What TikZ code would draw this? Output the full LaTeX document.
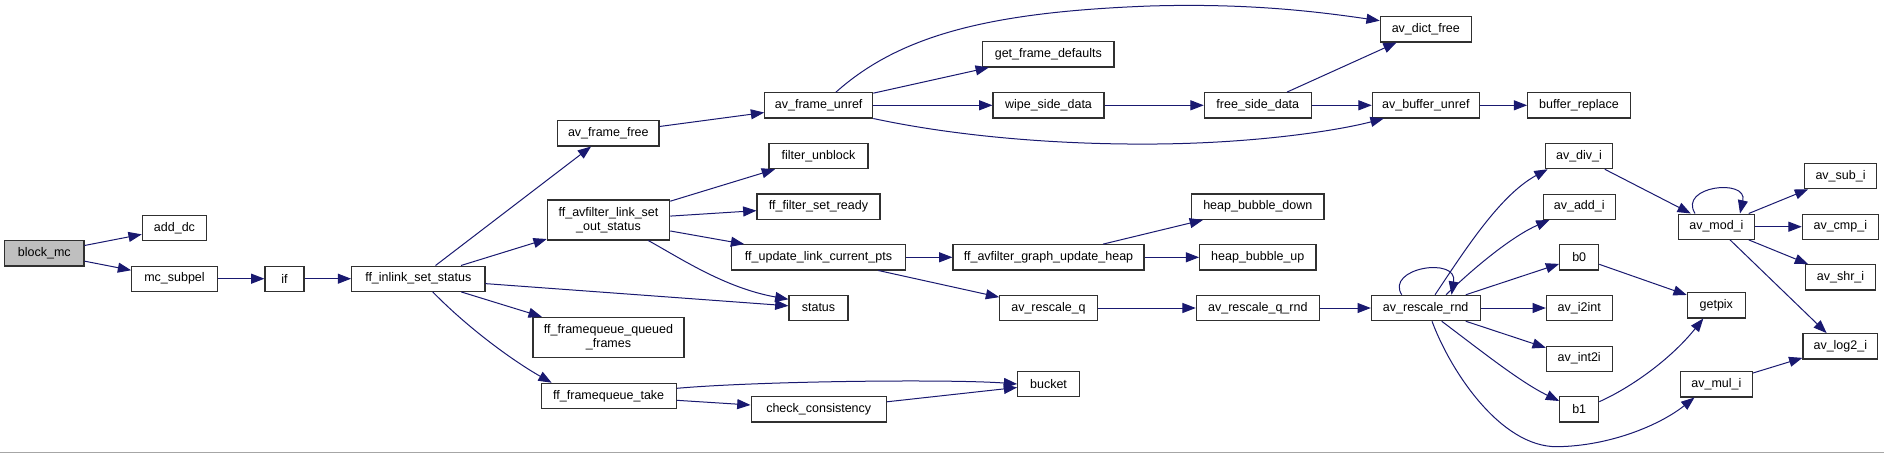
\documentclass[tikz,border=0pt]{standalone}
\usepackage{fontspec}
\setmainfont{Liberation Sans}
\usetikzlibrary{arrows.meta}
\definecolor{edgecol}{HTML}{191970}
\definecolor{rootfill}{HTML}{BFBFBF}
\definecolor{bordercol}{HTML}{303030}
\tikzset{
  fn/.style={draw=bordercol, line width=1.1pt, rectangle, inner sep=0pt, fill=white,
    font=\fontsize{12.5}{14.3}\selectfont, align=center, anchor=center},
  ed/.style={draw=edgecol, line width=1pt, -{Triangle[length=13.3pt,width=10pt]}},
}
\newcommand{\fnode}[6]{\node[fn, minimum width=#4pt, minimum height=#5pt] (#1) at (#2,#3) {#6};}
\begin{document}
\begin{tikzpicture}[x=1pt,y=-1pt]
\useasboundingbox (0,0) rectangle (1884,453);
\fill[white] (0,0) rectangle (1884,453);
% nodes
\node[fn, fill=rootfill, minimum width=79.3pt, minimum height=25.3pt] (blockmc) at (44.3,253.3) {block\_mc};
\fnode{adddc}{174.5}{228}{64.4}{25.4}{add\_dc}
\fnode{mcsubpel}{174.5}{278.7}{85.6}{25.3}{mc\_subpel}
\fnode{ifn}{284.5}{278.7}{39}{25.3}{if}
\fnode{ffinlink}{418.3}{278.7}{133.3}{25.3}{ff\_inlink\_set\_status}
\fnode{avframefree}{608.3}{133.3}{101.3}{25.3}{av\_frame\_free}
\fnode{ffavlink}{608.5}{220}{122.4}{40}{ff\_avfilter\_link\_set\\\_out\_status}
\fnode{ffqueued}{608.5}{337.3}{151}{40}{ff\_framequeue\_queued\\\_frames}
\fnode{fftake}{608.7}{396}{135.3}{25.4}{ff\_framequeue\_take}
\fnode{statusn}{818.5}{308}{59}{25.4}{status}
\fnode{avframeunref}{818.7}{105.3}{108}{25.3}{av\_frame\_unref}
\fnode{filterunblock}{818.5}{156}{99}{25.4}{filter\_unblock}
\fnode{ffsetready}{818.5}{206.7}{123}{25.4}{ff\_filter\_set\_ready}
\fnode{ffupdate}{818.5}{257.3}{173.6}{25.3}{ff\_update\_link\_current\_pts}
\fnode{checkcons}{818.7}{409.3}{135.3}{25.3}{check\_consistency}
\fnode{getframedef}{1048.3}{54.3}{131.3}{25.3}{get\_frame\_defaults}
\fnode{wipeside}{1048.5}{105.3}{111}{25.3}{wipe\_side\_data}
\fnode{ffgraphheap}{1048.5}{257.3}{191}{25.3}{ff\_avfilter\_graph\_update\_heap}
\fnode{avrescaleq}{1048.5}{308}{97.6}{25.4}{av\_rescale\_q}
\fnode{bucketn}{1048.5}{384}{61.6}{25.4}{bucket}
\fnode{freeside}{1257.8}{105.3}{107}{25.3}{free\_side\_data}
\fnode{heapdown}{1257.8}{206.7}{132.3}{25.4}{heap\_bubble\_down}
\fnode{heapup}{1257.8}{257.3}{116.3}{25.3}{heap\_bubble\_up}
\fnode{avrescaleqrnd}{1257.8}{308}{123}{25.4}{av\_rescale\_q\_rnd}
\fnode{avdictfree}{1425.8}{29.3}{91}{25.3}{av\_dict\_free}
\fnode{avbufferunref}{1425.8}{105.3}{107}{25.3}{av\_buffer\_unref}
\fnode{avrescalernd}{1425.7}{308}{108.7}{25.4}{av\_rescale\_rnd}
\fnode{bufferreplace}{1579}{105.3}{102.6}{25.3}{buffer\_replace}
\fnode{avdivi}{1579}{156}{66.6}{25.4}{av\_div\_i}
\fnode{avaddi}{1579.2}{206.7}{72.3}{25.3}{av\_add\_i}
\fnode{bzero}{1579.2}{257.3}{39}{25.3}{b0}
\fnode{avitwoint}{1579.2}{308}{65.7}{25.3}{av\_i2int}
\fnode{avinttwoi}{1579.2}{358.7}{65.7}{25.3}{av\_int2i}
\fnode{bone}{1579.2}{409.3}{39}{25.3}{b1}
\fnode{avmodi}{1716.4}{226.7}{76.2}{25.3}{av\_mod\_i}
\fnode{getpixn}{1716.3}{305.3}{58}{25.3}{getpix}
\fnode{avmuli}{1716.4}{384.2}{71.8}{25.5}{av\_mul\_i}
\fnode{avsubi}{1840.5}{176}{72.4}{25.4}{av\_sub\_i}
\fnode{avcmpi}{1840.3}{226.7}{76}{25.3}{av\_cmp\_i}
\fnode{avshri}{1840.5}{277.3}{69.6}{25.3}{av\_shr\_i}
\fnode{avlogtwoi}{1840.3}{346.3}{74.7}{25.3}{av\_log2\_i}
% edges
\draw[ed] (blockmc) -- (adddc);
\draw[ed] (blockmc) -- (mcsubpel);
\draw[ed] (mcsubpel) -- (ifn);
\draw[ed] (ifn) -- (ffinlink);
\draw[ed] (ffinlink) -- (avframefree);
\draw[ed] (ffinlink) -- (ffavlink);
\draw[ed] (ffinlink) -- (statusn);
\draw[ed] (ffinlink) -- (ffqueued);
\draw[ed] ([xshift=14.4pt]ffinlink.south) .. controls (470,330) and (515,362) .. ([xshift=-57pt]fftake.north);
\draw[ed] (avframefree) -- (avframeunref);
\draw[ed] ([xshift=17.3pt]avframeunref.north) .. controls (900,35) and (990,12) .. (1150,6) .. controls (1250,3) and (1320,12) .. ([yshift=8.6pt]avdictfree.west);
\draw[ed] (avframeunref) -- (getframedef);
\draw[ed] (avframeunref) -- (wipeside);
\draw[ed] (avframeunref.south east) .. controls (950,135) and (1050,145) .. (1157,144) .. controls (1260,143) and (1340,130) .. ([xshift=12pt]avbufferunref.south west);
\draw[ed] (wipeside) -- (freeside);
\draw[ed] (freeside) -- (avdictfree);
\draw[ed] (freeside) -- (avbufferunref);
\draw[ed] (avbufferunref) -- (bufferreplace);
\draw[ed] (ffavlink) -- (filterunblock);
\draw[ed] (ffavlink) -- (ffsetready);
\draw[ed] (ffavlink) -- (ffupdate);
\draw[ed] ([xshift=39.8pt]ffavlink.south) .. controls (680,258) and (725,288) .. ([yshift=8.7pt]statusn.west);
\draw[ed] (ffupdate) -- (ffgraphheap);
\draw[ed] (ffupdate) -- (avrescaleq);
\draw[ed] (ffgraphheap) -- (heapdown);
\draw[ed] (ffgraphheap) -- (heapup);
\draw[ed] (avrescaleq) -- (avrescaleqrnd);
\draw[ed] (avrescaleqrnd) -- (avrescalernd);
\draw[ed] ([xshift=-24pt]avrescalernd.north) .. controls (1385,268) and (1458,256) .. ([xshift=25.8pt]avrescalernd.north);
\draw[ed] ([xshift=9.3pt]avrescalernd.north) .. controls (1465,250) and (1500,195) .. ([xshift=2.5pt]avdivi.south west);
\draw[ed] ([xshift=20.3pt]avrescalernd.north) .. controls (1480,262) and (1515,235) .. ([xshift=7pt]avaddi.south west);
\draw[ed] (avrescalernd) -- (bzero);
\draw[ed] (avrescalernd) -- (avitwoint);
\draw[ed] (avrescalernd) -- (avinttwoi);
\draw[ed] ([xshift=16pt]avrescalernd.south) .. controls (1480,350) and (1520,382) .. ([yshift=8.3pt]bone.west);
\draw[ed] ([xshift=6.3pt]avrescalernd.south) .. controls (1450,370) and (1500,447) .. (1557,446.7) .. controls (1610,446) and (1660,425) .. ([xshift=14.5pt]avmuli.south west);
\draw[ed] (avdivi) -- (avmodi);
\draw[ed] ([xshift=-21.4pt]avmodi.north) .. controls (1678,186) and (1748,178) .. ([xshift=23.6pt]avmodi.north);
\draw[ed] (avmodi) -- (avsubi);
\draw[ed] (avmodi) -- (avcmpi);
\draw[ed] (avmodi) -- (avshri);
\draw[ed] (avmodi) -- (avlogtwoi);
\draw[ed] (bzero) -- (getpixn);
\draw[ed] ([yshift=7.6pt]bone.east) .. controls (1630,388) and (1670,360) .. ([xshift=-13pt]getpixn.south);
\draw[ed] (avmuli) -- (avlogtwoi);
\draw[ed] ([yshift=7.7pt]fftake.east) .. controls (760,381) and (950,379) .. (bucketn.west);
\draw[ed] (fftake) -- (checkcons);
\draw[ed] (checkcons) -- (bucketn);
% bottom frame line
\draw[color=black!35, line width=1pt] (0,452.3) -- (1884,452.3);
\end{tikzpicture}
\end{document}
